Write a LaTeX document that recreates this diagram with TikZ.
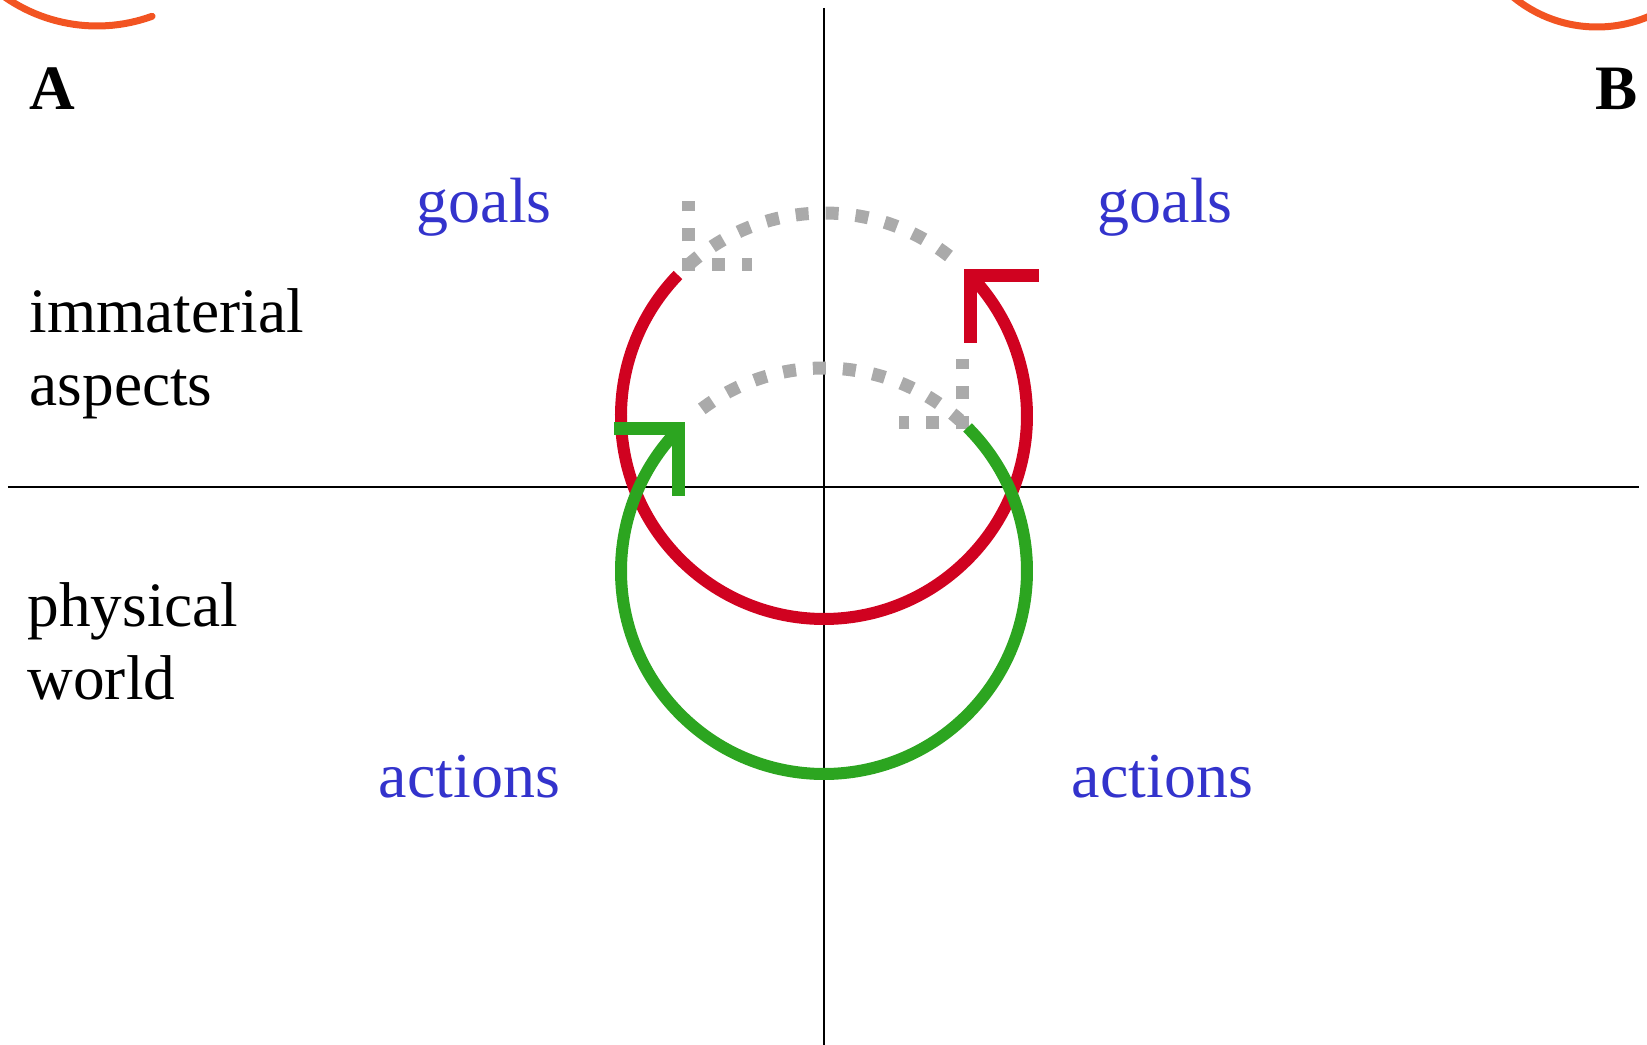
\documentclass[tikz,border=0pt]{standalone}
\usepackage{fontspec}
\setmainfont{Liberation Serif}

\definecolor{loopred}{RGB}{208,2,32}
\definecolor{loopgreen}{RGB}{44,165,32}
\definecolor{labelblue}{RGB}{51,51,204}
\definecolor{dotgray}{RGB}{170,170,170}
\definecolor{cutorange}{RGB}{242,84,34}

\begin{document}
\begin{tikzpicture}[
        axisline/.style={line width=0.022cm, black},
        redloop/.style={line width=0.12cm, loopred},
        greenloop/.style={line width=0.12cm, loopgreen},
        tiphead/.style={line width=0.13cm, line join=miter, line cap=butt},
        dotloop/.style={line width=0.13cm, dotgray, dash pattern=on 0.13cm off 0.17cm},
        cutarc/.style={line width=0.07cm, cutorange, line cap=round},
        sidetext/.style={anchor=base west, inner sep=0pt, font=\fontsize{18}{21}\selectfont},
        bluelabel/.style={anchor=base west, inner sep=0pt, text=labelblue, font=\fontsize{18.2}{21}\selectfont},
        panel/.style={inner sep=0pt, font=\fontsize{18}{21}\selectfont\bfseries}
    ]
    \useasboundingbox (-8.24,-5.58) rectangle (8.23,4.87);

    % pieces of the neighbouring figures
    \begin{scope}
        \clip (-8.24,-5.58) rectangle (8.23,4.87);
        \draw[cutarc] (-7.27,6.22) ++(-135:1.61) arc[start angle=-135, end angle=-70, radius=1.61];
        \draw[cutarc] (7.73,5.92) circle[radius=1.32];
    \end{scope}

    % axes
    \draw[axisline] (-8.16,0) -- (8.15,0);
    \draw[axisline] (0,4.79) -- (0,-5.58);

    % panel letters and row labels
    \node[panel, anchor=base west] (A) at (-7.95,3.77) {A};
    \node[panel, anchor=base east] (B) at (8.14,3.77) {B};
    \node[sidetext] (imm) at (-7.95,1.54) {immaterial};
    \node[sidetext] (asp) at (-7.95,0.81) {aspects};
    \node[sidetext] (phys) at (-7.97,-1.40) {physical};
    \node[sidetext] (world) at (-7.97,-2.13) {world};

    \node[bluelabel] (goalsL) at (-4.08,2.64) {goals};
    \node[bluelabel] (goalsR) at (2.73,2.64) {goals};
    \node[bluelabel] (actL) at (-4.46,-3.11) {actions};
    \node[bluelabel] (actR) at (2.47,-3.11) {actions};

    % loop centres
    \coordinate (redc) at (0,0.71);
    \coordinate (greenc) at (0,-0.84);

    % dotted continuations
    \draw[dotloop] (redc) ++(52:2.03) arc[start angle=52, end angle=132, radius=2.03];
    \coordinate (rdot) at (-1.35,2.22);
    \draw[dotloop] (rdot) ++(0,-0.065) -- ++(0,0.7) (rdot) ++(-0.065,0) -- ++(0.7,0);
    \draw[dotloop] (greenc) ++(127:2.03) arc[start angle=127, end angle=48, radius=2.03];
    \coordinate (gdot) at (1.39,0.64);
    \draw[dotloop] (gdot) ++(0.065,0) -- ++(-0.7,0) (gdot) ++(0,-0.065) -- ++(0,0.7);

    % solid loops
    \draw[redloop] (redc) ++(136:2.03) arc[start angle=136, end angle=403.8, radius=2.03] coordinate (rtip);
    \draw[redloop, tiphead] (rtip) ++(0.68,0) -- (rtip) -- ++(0,-0.68);
    \draw[greenloop] (greenc) ++(45:2.03) arc[start angle=45, end angle=-224.4, radius=2.03] coordinate (gtip);
    \draw[greenloop, tiphead] (gtip) ++(-0.65,0) -- (gtip) -- ++(0,-0.67);
\end{tikzpicture}
\end{document}
